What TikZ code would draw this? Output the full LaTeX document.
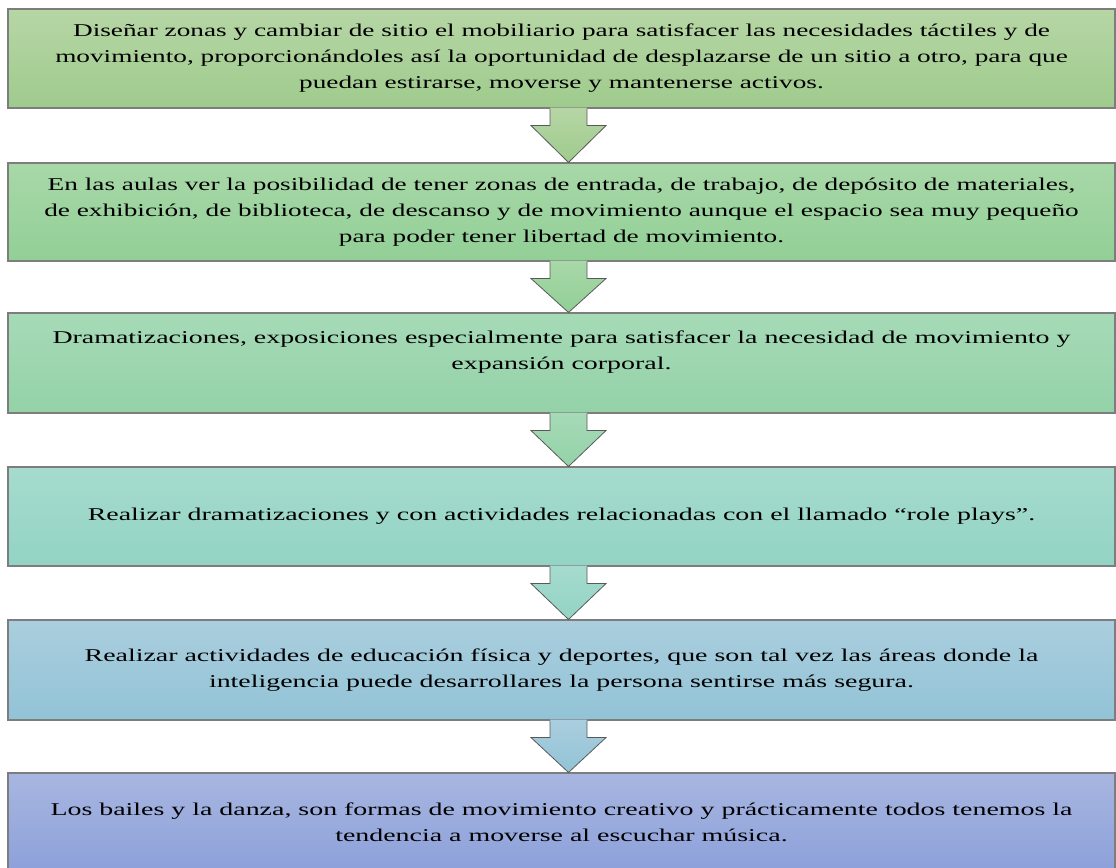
\documentclass[tikz,border=0pt]{standalone}
\usepackage{fontspec}
\setmainfont[FakeStretch=1.55]{Liberation Serif}
\newfontfamily\tighterfont[FakeStretch=1.515]{Liberation Serif}
\usetikzlibrary{positioning, calc}
\definecolor{topA}{RGB}{182,214,165}
\definecolor{botA}{RGB}{159,203,141}
\definecolor{topB}{RGB}{168,216,168}
\definecolor{botB}{RGB}{146,207,150}
\definecolor{topC}{RGB}{166,218,183}
\definecolor{botC}{RGB}{148,210,168}
\definecolor{topD}{RGB}{166,219,206}
\definecolor{botD}{RGB}{146,212,196}
\definecolor{topE}{RGB}{170,206,222}
\definecolor{botE}{RGB}{146,195,214}
\definecolor{topF}{RGB}{168,182,224}
\definecolor{botF}{RGB}{140,160,218}
\definecolor{edgegray}{RGB}{125,125,125}
\tikzset{x=0.75pt, y=-0.75pt, % one unit is one pixel, y runs downwards
stepbox/.style={rectangle, draw=edgegray, line width=0.8pt, minimum width=830.25pt, inner sep=0pt, align=center, font=\fontsize{13.5}{19.5}\selectfont}, % the boxes
longtext/.style={font=\tighterfont\fontsize{13.5}{19.5}\selectfont}, % slightly narrower text in the first two boxes
blockarrow/.style={line width=0.6pt, draw=gray!70!black}, % outline of the block arrows
}

\begin{document}
\begin{tikzpicture}
    \useasboundingbox (0,0) rectangle (1116,867);
    \node[stepbox, longtext, minimum height=74.25pt, top color=topA, bottom color=botA] (s1) at (561.5,58.5) {Diseñar zonas y cambiar de sitio el mobiliario para satisfacer las necesidades táctiles y de\\movimiento, proporcionándoles así la oportunidad de desplazarse de un sitio a otro, para que\\puedan estirarse, moverse y mantenerse activos.};
    \node[stepbox, longtext, minimum height=73.5pt, top color=topB, bottom color=botB] (s2) at (561.5,212) {En las aulas ver la posibilidad de tener zonas de entrada, de trabajo, de depósito de materiales,\\de exhibición, de biblioteca, de descanso y de movimiento aunque el espacio sea muy pequeño\\para poder tener libertad de movimiento.};
    \node[stepbox, minimum height=75pt, top color=topC, bottom color=botC] (s3) at (561.5,363) {Dramatizaciones, exposiciones especialmente para satisfacer la necesidad de movimiento y\\expansión corporal.\\\mbox{}};
    \node[stepbox, minimum height=74.25pt, top color=topD, bottom color=botD] (s4) at (561.5,516.5) {Realizar dramatizaciones y con actividades relacionadas con el llamado “role plays”.};
    \node[stepbox, minimum height=75pt, top color=topE, bottom color=botE] (s5) at (561.5,670) {Realizar actividades de educación física y deportes, que son tal vez las áreas donde la\\inteligencia puede desarrollares la persona sentirse más segura.};
    \node[stepbox, minimum height=74.25pt, top color=topF, bottom color=botF] (s6) at (561.5,822.5) {Los bailes y la danza, son formas de movimiento creativo y prácticamente todos tenemos la\\tendencia a moverse al escuchar música.};
    % block arrows between the boxes
    \foreach \a/\b/\c in {s1/s2/A, s2/s3/B, s3/s4/C, s4/s5/D, s5/s6/E}{
      \shade[top color=top\c, bottom color=bot\c] ($(\a.south)+(-11.5,-1)$) -- ++(0,18) -- ++(-19,0) -- ($(\b.north)+(7,0)$) -- ($(\a.south)+(44.5,17)$) -- ++(-19,0) -- ++(0,-18) -- cycle;
      \draw[blockarrow] ($(\a.south)+(-11.5,0)$) -- ++(0,17) -- ++(-19,0) -- ($(\b.north)+(7,0)$) -- ($(\a.south)+(44.5,17)$) -- ++(-19,0) -- ++(0,-17);
    }
\end{tikzpicture}
\end{document}
